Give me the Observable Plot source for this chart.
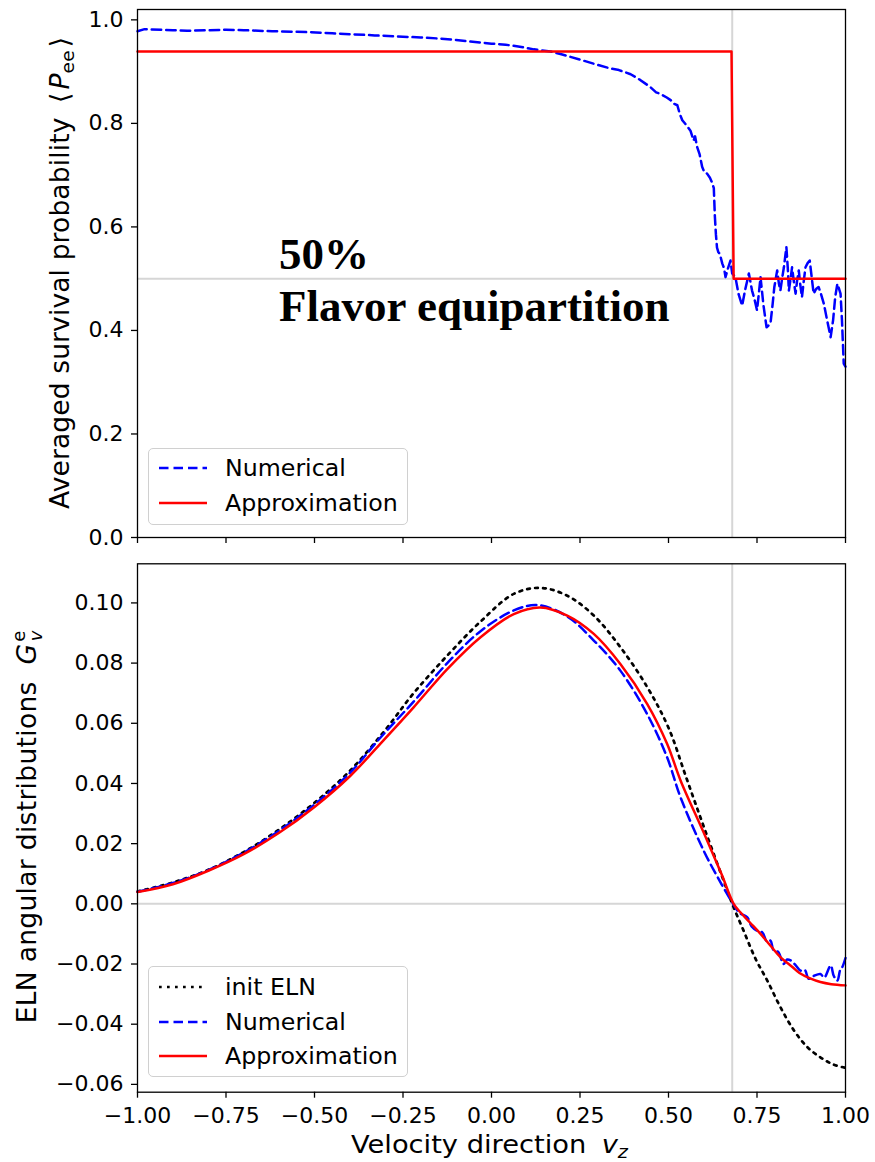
<!DOCTYPE html>
<html>
<head>
<meta charset="utf-8">
<script src="https://cdn.jsdelivr.net/npm/d3@7"></script>
<script src="https://cdn.jsdelivr.net/npm/@observablehq/plot@0.6"></script>
<style>
  html, body { margin: 0; padding: 0; background: #fff; }
  #wrap { position: relative; width: 875px; height: 1162px; font-family: "DejaVu Sans", sans-serif; color: #000; }
  #wrap svg { display: block; }
  .legend { position: absolute; background: rgba(255,255,255,0.85); border: 1.5px solid #d0d0d0; border-radius: 5px; box-sizing: border-box; }
  .row { position: absolute; left: 0; height: 0; }
  .row svg { position: absolute; left: 9px; top: -6px; }
  .row span { position: absolute; left: 76px; top: 0; transform: translateY(-50%); font-size: 23.7px; white-space: nowrap; }
</style>
</head>
<body>
<div id="wrap"></div>
<script>
// ---------- data ----------
const vTicks = [-1, -0.75, -0.5, -0.25, 0, 0.25, 0.5, 0.75, 1];
const pTicks = [0, 0.2, 0.4, 0.6, 0.8, 1.0];
const gTicks = [-0.06, -0.04, -0.02, 0, 0.02, 0.04, 0.06, 0.08, 0.10];

const crossingV = 0.68;      // vertical gray line
const equipartition = 0.5;   // horizontal gray line (top)
const zeroLine = 0;          // horizontal gray line (bottom)

// Top panel: numerical averaged survival probability
const numTopV = [-1.00,-0.98,-0.90,-0.86,-0.80,-0.75,-0.70,-0.62,-0.55,-0.51,-0.45,-0.39,-0.33,-0.27,-0.20,-0.15,-0.10,-0.06,0.00,0.04,0.08,0.12,0.167,0.20,0.251,0.29,0.336,0.36,0.393,0.42,0.449,0.465,0.477,0.495,0.506,0.515,0.525,0.532,0.539,0.55,0.562,0.571,0.575,0.581,0.588,0.595,0.602,0.609,0.617,0.624,0.628,0.631,0.634,0.637,0.641,0.645,0.652,0.657,0.661,0.668,0.675,0.680,0.689,0.698,0.708,0.717,0.727,0.736,0.743,0.750,0.755,0.760,0.768,0.777,0.783,0.788,0.794,0.799,0.807,0.812,0.816,0.822,0.826,0.833,0.837,0.840,0.845,0.849,0.854,0.859,0.863,0.868,0.872,0.877,0.882,0.887,0.893,0.899,0.905,0.910,0.917,0.924,0.931,0.939,0.948,0.958,0.965,0.971,0.977,0.982,0.986,0.990,0.995,1.000];
const numTopP = [0.978,0.982,0.980,0.979,0.980,0.981,0.980,0.978,0.977,0.976,0.974,0.972,0.970,0.968,0.966,0.964,0.961,0.958,0.954,0.952,0.948,0.943,0.939,0.933,0.923,0.915,0.906,0.903,0.895,0.884,0.870,0.860,0.857,0.850,0.845,0.838,0.835,0.818,0.806,0.797,0.786,0.767,0.775,0.754,0.740,0.716,0.705,0.703,0.695,0.684,0.675,0.620,0.585,0.560,0.551,0.548,0.529,0.520,0.503,0.520,0.535,0.510,0.503,0.470,0.448,0.480,0.510,0.477,0.460,0.439,0.470,0.503,0.450,0.406,0.410,0.413,0.450,0.484,0.516,0.490,0.477,0.505,0.522,0.561,0.520,0.477,0.500,0.522,0.495,0.471,0.495,0.516,0.490,0.464,0.495,0.522,0.530,0.535,0.500,0.471,0.480,0.484,0.470,0.451,0.420,0.387,0.420,0.465,0.490,0.480,0.471,0.420,0.336,0.330];

// Top panel: approximation (step)
const apprTopV = [-1, 0.678, 0.684, 1];
const apprTopP = [0.939, 0.939, 0.5, 0.5];

// Annotation text
const noteText = ["50%", "Flavor equipartition"];
const noteV = [-0.60, -0.60];
const noteP = [0.547, 0.446];

// Bottom panel: init ELN
const initV = [-1.0,-0.9,-0.8,-0.7,-0.6,-0.5,-0.4,-0.3,-0.22,-0.125,-0.031,0.063,0.138,0.214,0.289,0.364,0.44,0.5,0.55,0.6,0.65,0.68,0.712,0.746,0.779,0.816,0.854,0.892,0.929,0.966,1.0];
const initG = [0.0041,0.0071,0.0113,0.0172,0.0247,0.0336,0.0442,0.0578,0.0700,0.0825,0.0938,0.1030,0.1050,0.1024,0.0958,0.0853,0.0720,0.0585,0.0420,0.0255,0.0095,0.0,-0.0089,-0.0183,-0.0255,-0.0343,-0.0420,-0.0476,-0.0510,-0.0534,-0.0545];

// Bottom panel: numerical
const numBotV = [-1.0,-0.9,-0.8,-0.7,-0.6,-0.5,-0.4,-0.314,-0.22,-0.125,-0.031,0.063,0.13,0.214,0.289,0.364,0.44,0.496,0.534,0.6,0.65,0.68,0.70,0.722,0.735,0.75,0.765,0.778,0.788,0.797,0.81,0.825,0.835,0.845,0.86,0.873,0.885,0.896,0.91,0.929,0.94,0.958,0.967,0.977,0.985,0.991,1.0];
const numBotG = [0.0040,0.0069,0.0112,0.0170,0.0243,0.0330,0.0435,0.0552,0.0672,0.0800,0.0906,0.0975,0.0993,0.0955,0.0875,0.0775,0.0630,0.0487,0.0354,0.0175,0.0065,0.0005,-0.0030,-0.0044,-0.0075,-0.0089,-0.0095,-0.0125,-0.0122,-0.0155,-0.0160,-0.0200,-0.0185,-0.0188,-0.0205,-0.0222,-0.0220,-0.0249,-0.0240,-0.0233,-0.0245,-0.0205,-0.0240,-0.0255,-0.0220,-0.0210,-0.0180];

// Bottom panel: approximation
const apprBotV = [-1.0,-0.9,-0.8,-0.7,-0.6,-0.5,-0.4,-0.3,-0.22,-0.125,-0.031,0.063,0.138,0.214,0.289,0.364,0.44,0.496,0.534,0.6,0.65,0.684,0.703,0.73,0.76,0.79,0.816,0.85,0.87,0.9,0.929,0.96,1.0];
const apprBotG = [0.0039,0.0065,0.0110,0.0165,0.0236,0.0322,0.0424,0.0550,0.0653,0.0780,0.0886,0.0963,0.0985,0.0958,0.0897,0.0797,0.0664,0.0532,0.0410,0.0235,0.0098,0.0,-0.0028,-0.0062,-0.0100,-0.0142,-0.0177,-0.0210,-0.0230,-0.0248,-0.0260,-0.0267,-0.0271];

// ---------- build tables ----------
const zip = (xs, ys, kx, ky) => xs.map((x, i) => ({[kx]: x, [ky]: ys[i]}));
const numTop = zip(numTopV, numTopP, "v", "p");
const apprTop = zip(apprTopV, apprTopP, "v", "p");
const notes = noteText.map((t, i) => ({t, v: noteV[i], p: noteP[i]}));
const initBot = zip(initV, initG, "v", "g");
const numBot = zip(numBotV, numBotG, "v", "g");
const apprBot = zip(apprBotV, apprBotG, "v", "g");

const BLUE = "#0000ff", RED = "#ff0000", GRAY = "#d6d6d6";
const DASH = "9.5,5", DOT = "2.7,5.3";
const baseStyle = {fontFamily: "DejaVu Sans, sans-serif", fontSize: "22px", color: "#000", background: "white", overflow: "visible"};

const topPlot = Plot.plot({
  width: 875, height: 550,
  marginLeft: 137, marginRight: 30, marginTop: 9, marginBottom: 13,
  style: baseStyle,
  x: {domain: [-1, 1]},
  y: {domain: [0, 1.02]},
  marks: [
    Plot.ruleY([equipartition], {stroke: GRAY, strokeWidth: 2}),
    Plot.ruleX([crossingV], {stroke: GRAY, strokeWidth: 2}),
    Plot.line(numTop, {x: "v", y: "p", stroke: BLUE, strokeWidth: 2.5, strokeDasharray: DASH}),
    Plot.line(apprTop, {x: "v", y: "p", stroke: RED, strokeWidth: 2.5}),
    Plot.text(notes, {x: "v", y: "p", text: "t", textAnchor: "start", fontFamily: "Liberation Serif, serif", fontWeight: "bold", fontSize: 45, fill: "#000"}),
    Plot.frame({stroke: "#000", strokeWidth: 1.3}),
    Plot.axisX({ticks: vTicks, tickFormat: () => "", tickSize: 6, strokeWidth: 1.3, label: null}),
    Plot.axisY({ticks: pTicks, tickFormat: d3.format(".1f"), tickSize: 6, tickPadding: 8, strokeWidth: 1.3, label: null})
  ]
});

const botPlot = Plot.plot({
  width: 875, height: 612,
  marginLeft: 137, marginRight: 30, marginTop: 13.3, marginBottom: 70.3,
  style: baseStyle,
  x: {domain: [-1, 1]},
  y: {domain: [-0.0626, 0.113]},
  marks: [
    Plot.ruleY([zeroLine], {stroke: GRAY, strokeWidth: 2}),
    Plot.ruleX([crossingV], {stroke: GRAY, strokeWidth: 2}),
    Plot.line(initBot, {x: "v", y: "g", stroke: "#000", strokeWidth: 2.7, strokeDasharray: DOT, curve: "catmull-rom"}),
    Plot.line(numBot, {x: "v", y: "g", stroke: BLUE, strokeWidth: 2.5, strokeDasharray: DASH, curve: "catmull-rom"}),
    Plot.line(apprBot, {x: "v", y: "g", stroke: RED, strokeWidth: 2.5, curve: "catmull-rom"}),
    Plot.frame({stroke: "#000", strokeWidth: 1.3}),
    Plot.axisX({ticks: vTicks, tickFormat: d3.format(".2f"), tickSize: 6, tickPadding: 9, strokeWidth: 1.3, label: null}),
    Plot.axisY({ticks: gTicks, tickFormat: d3.format(".2f"), tickSize: 6, tickPadding: 8, strokeWidth: 1.3, label: null})
  ]
});

const wrap = document.getElementById("wrap");
topPlot.style.position = "absolute"; topPlot.style.left = "0px"; topPlot.style.top = "0px";
botPlot.style.position = "absolute"; botPlot.style.left = "0px"; botPlot.style.top = "550px";
wrap.appendChild(topPlot);
wrap.appendChild(botPlot);

// ---------- axis labels (overlay svg) ----------
const NS = "http://www.w3.org/2000/svg";
const over = document.createElementNS(NS, "svg");
over.setAttribute("width", 875); over.setAttribute("height", 1162);
Object.assign(over.style, {position: "absolute", left: "0px", top: "0px", pointerEvents: "none", overflow: "visible"});
wrap.appendChild(over);
over.innerHTML = `
  <g font-family="DejaVu Sans, sans-serif" fill="#000">
    <text transform="translate(68.5,273) rotate(-90)" text-anchor="middle" font-size="26.5" textLength="472" lengthAdjust="spacing">Averaged survival probability <tspan dx="6">\u27e8</tspan><tspan dx="3" font-style="italic">P</tspan><tspan font-size="18.5" dy="5">ee</tspan><tspan dy="-5" dx="3">\u27e9</tspan></text>
    <text transform="translate(36,827) rotate(-90)" text-anchor="middle" font-size="26.5" textLength="393" lengthAdjust="spacing">ELN angular distributions <tspan dx="8" font-style="italic">G</tspan><tspan font-size="18" dy="-11" dx="2">e</tspan><tspan font-size="18" font-style="italic" dx="-11" dy="17">v</tspan></text>
    <text x="489.5" y="1153" text-anchor="middle" font-size="24" textLength="277" lengthAdjust="spacingAndGlyphs">Velocity direction <tspan dx="6" font-style="italic">v</tspan><tspan font-size="17" font-style="italic" dy="5">z</tspan></text>
  </g>`;

// ---------- legends ----------
const legendTopItems = [
  {label: "Numerical", color: BLUE, dash: DASH, w: 2.5},
  {label: "Approximation", color: RED, dash: null, w: 2.5}
];
const legendBotItems = [
  {label: "init ELN", color: "#000", dash: DOT, w: 2.7},
  {label: "Numerical", color: BLUE, dash: DASH, w: 2.5},
  {label: "Approximation", color: RED, dash: null, w: 2.5}
];
function addLegend(items, left, top, width, height, rowTops) {
  const box = document.createElement("div");
  box.className = "legend";
  Object.assign(box.style, {left: left + "px", top: top + "px", width: width + "px", height: height + "px"});
  items.forEach((it, i) => {
    const row = document.createElement("div");
    row.className = "row";
    row.style.top = rowTops[i] + "px";
    row.innerHTML = `<svg width="50" height="12"><line x1="1" y1="6" x2="49" y2="6" stroke="${it.color}" stroke-width="${it.w}" ${it.dash ? `stroke-dasharray="${it.dash}"` : ""}/></svg><span>${it.label}</span>`;
    box.appendChild(row);
  });
  wrap.appendChild(box);
}
addLegend(legendTopItems, 148, 448, 260, 77, [19, 54]);
addLegend(legendBotItems, 148, 966, 260, 111, [20, 54.5, 89]);
</script>
</body>
</html>
